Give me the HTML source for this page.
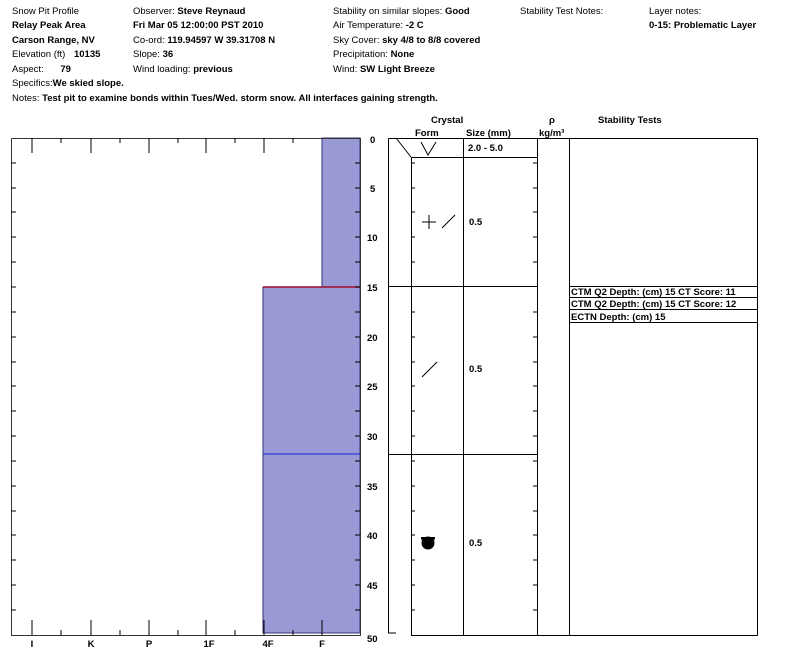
<!DOCTYPE html>
<html><head><style>
body{margin:0;background:#fff;width:800px;height:665px;overflow:hidden;font-family:"Liberation Sans",Arial,sans-serif;}
svg text{font-family:"Liberation Sans",Arial,sans-serif;font-size:9.5px;}
.b{font-weight:bold}
</style></head><body>
<svg width="800" height="665" xmlns="http://www.w3.org/2000/svg">
<g fill="#000">
<text x="12" y="14">Snow Pit Profile</text>
<text x="12" y="28" class="b">Relay Peak Area</text>
<text x="12" y="43" class="b">Carson Range, NV</text>
<text x="12" y="57">Elevation (ft) <tspan class="b" dx="6">10135</tspan></text>
<text x="12" y="72">Aspect: <tspan class="b" dx="14">79</tspan></text>
<text x="12" y="86">Specifics:<tspan class="b">We skied slope.</tspan></text>
<text x="12" y="101">Notes: <tspan class="b">Test pit to examine bonds within Tues/Wed. storm snow.  All interfaces gaining strength.</tspan></text>
<text x="133" y="14">Observer: <tspan class="b">Steve Reynaud</tspan></text>
<text x="133" y="28" class="b">Fri Mar 05 12:00:00 PST 2010</text>
<text x="133" y="43">Co-ord: <tspan class="b">119.94597 W 39.31708 N</tspan></text>
<text x="133" y="57">Slope: <tspan class="b">36</tspan></text>
<text x="133" y="72">Wind loading: <tspan class="b">previous</tspan></text>
<text x="333" y="14">Stability on similar slopes: <tspan class="b">Good</tspan></text>
<text x="333" y="28">Air Temperature: <tspan class="b">-2 C</tspan></text>
<text x="333" y="43">Sky Cover: <tspan class="b">sky 4/8 to 8/8 covered</tspan></text>
<text x="333" y="57">Precipitation: <tspan class="b">None</tspan></text>
<text x="333" y="72">Wind: <tspan class="b">SW Light Breeze</tspan></text>
<text x="520" y="14">Stability Test Notes:</text>
<text x="649" y="14">Layer notes:</text>
<text x="649" y="28" class="b">0-15: Problematic Layer</text>
</g>
<!-- hardness chart -->
<rect x="322" y="138" width="38" height="149" fill="#9999d6" stroke="#33337a" stroke-width="1"/>
<rect x="263" y="287" width="97" height="346" fill="#9999d6" stroke="#33337a" stroke-width="1"/>
<line x1="263" y1="287" x2="360" y2="287" stroke="#a01030" stroke-width="1.5"/>
<line x1="263" y1="454" x2="360" y2="454" stroke="#2020d0" stroke-width="1"/>
<g stroke="#000" stroke-width="1" fill="none">
<polyline points="11.5,138.5 360.5,138.5 360.5,635.5 11.5,635.5 11.5,138.5" stroke="#333"/>
<path d="M32,138v15M91,138v15M149,138v15M206,138v15M264,138v15M61,138v5M120,138v5M178,138v5M235,138v5M293,138v5"/>
<path d="M32,635v-15M91,635v-15M149,635v-15M206,635v-15M264,635v-15M322,635v-15M61,635v-5M120,635v-5M178,635v-5M235,635v-5M293,635v-5"/>
<path d="M11,163h5M11,188h5M11,212h5M11,237h5M11,262h5M11,287h5M11,312h5M11,337h5M11,362h5M11,386h5M11,411h5M11,436h5M11,461h5M11,486h5M11,511h5M11,535h5M11,560h5M11,585h5M11,610h5"/>
<path d="M360,163h-5M360,188h-5M360,212h-5M360,237h-5M360,262h-5M360,287h-5M360,312h-5M360,337h-5M360,362h-5M360,386h-5M360,411h-5M360,436h-5M360,461h-5M360,486h-5M360,511h-5M360,535h-5M360,560h-5M360,585h-5M360,610h-5"/>
</g>
<g class="b" font-weight="bold" text-anchor="middle">
<text x="32" y="647">I</text><text x="91" y="647">K</text><text x="149" y="647">P</text><text x="209" y="647">1F</text><text x="268" y="647">4F</text><text x="322" y="647">F</text>
</g>
<g font-weight="bold">
<text x="370" y="143">0</text><text x="370" y="192">5</text><text x="367" y="241">10</text><text x="367" y="291">15</text><text x="367" y="341">20</text><text x="367" y="390">25</text><text x="367" y="440">30</text><text x="367" y="490">35</text><text x="367" y="539">40</text><text x="367" y="589">45</text><text x="367" y="642">50</text>
</g>
<!-- crystal table -->
<g font-weight="bold">
<text x="431" y="123">Crystal</text>
<text x="415" y="136">Form</text>
<text x="466" y="136">Size (mm)</text>
<text x="549" y="123">ρ</text>
<text x="539" y="136">kg/m³</text>
<text x="598" y="123">Stability Tests</text>
<text x="468" y="151">2.0 -   5.0</text>
<text x="469" y="225">0.5</text>
<text x="469" y="372">0.5</text>
<text x="469" y="546">0.5</text>
<text x="571" y="295">CTM Q2 Depth: (cm) 15 CT Score: 11</text>
<text x="571" y="307">CTM Q2 Depth: (cm) 15 CT Score: 12</text>
<text x="571" y="320">ECTN   Depth: (cm) 15</text>
</g>
<g stroke="#000" stroke-width="1" fill="none">
<path d="M388.5,138.5H757.5V635.5M388.5,138.5V633M388,633h8M411.5,157V635.5H757.5M463.5,138.5V635.5M537.5,138.5V635.5M569.5,138.5V635.5"/>
<path d="M396,138L411,157M411,157.5H537M388,286.5H537M388,454.5H537M569,286.5H757M569,297.5H757M569,309.5H757M569,322.5H757"/>
<path d="M411,163h4M411,188h4M411,212h4M411,237h4M411,262h4M411,312h4M411,337h4M411,362h4M411,386h4M411,411h4M411,436h4M411,461h4M411,486h4M411,511h4M411,535h4M411,560h4M411,585h4M411,610h4"/>
<path d="M537,163h-4M537,188h-4M537,212h-4M537,237h-4M537,262h-4M537,312h-4M537,337h-4M537,362h-4M537,386h-4M537,411h-4M537,436h-4M537,461h-4M537,486h-4M537,511h-4M537,535h-4M537,560h-4M537,585h-4M537,610h-4"/>
<path d="M421,142L428,155L436,142"/>
<path d="M422,222h14M429,215v14M442,228L455,215"/>
<path d="M422,377L437,362"/>
</g>
<path d="M421,537h14a7,7 0 0 1 -14,0z" fill="#000"/>
<circle cx="428" cy="543" r="6.5" fill="#000"/>
</svg>
</body></html>
